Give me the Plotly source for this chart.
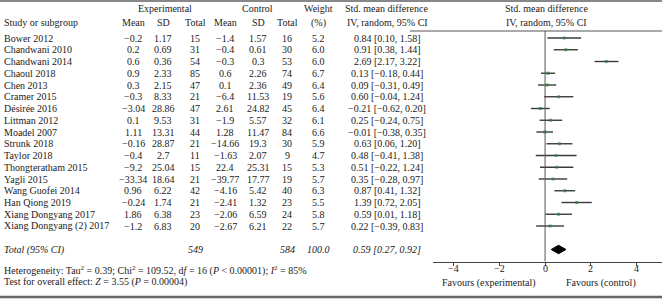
import plotly.graph_objects as go

studies = ["Bower 2012", "Chandwani 2010", "Chandwani 2014", "Chaoul 2018", "Chen 2013",
           "Cramer 2015", "Désirée 2016", "Littman 2012", "Moadel 2007", "Strunk 2018",
           "Taylor 2018", "Thongteratham 2015", "Yagli 2015", "Wang Guofei 2014",
           "Han Qiong 2019", "Xiang Dongyang 2017", "Xiang Dongyang (2) 2017"]
exp_mean = [-0.2, 0.2, 0.6, 0.9, 0.3, -0.3, -3.04, 0.1, 1.11, -0.16, -0.4, -9.2, -33.34, 0.96, -0.24, 1.86, -1.2]
exp_sd = [1.17, 0.69, 0.36, 2.33, 2.15, 8.33, 28.86, 9.53, 13.31, 28.87, 2.7, 25.04, 18.64, 6.22, 1.74, 6.38, 6.83]
exp_n = [15, 31, 54, 85, 47, 21, 47, 31, 44, 21, 11, 15, 21, 42, 21, 23, 20]
ctl_mean = [-1.4, -0.4, -0.3, 0.6, 0.1, -6.4, 2.61, -1.9, 1.28, -14.66, -1.63, 22.4, -39.77, -4.16, -2.41, -2.06, -2.67]
ctl_sd = [1.57, 0.61, 0.3, 2.26, 2.36, 11.53, 24.82, 5.57, 11.47, 19.3, 2.07, 25.31, 17.77, 5.42, 1.32, 6.59, 6.21]
ctl_n = [16, 30, 53, 74, 49, 19, 45, 32, 84, 30, 9, 15, 19, 40, 23, 24, 22]
weight = [5.2, 6.0, 6.0, 6.7, 6.4, 5.6, 6.4, 6.1, 6.6, 5.9, 4.7, 5.3, 5.7, 6.3, 5.5, 5.8, 5.7]
smd = [0.84, 0.91, 2.69, 0.13, 0.09, 0.60, -0.21, 0.25, -0.01, 0.63, 0.48, 0.51, 0.35, 0.87, 1.39, 0.59, 0.22]
ci_lo = [0.10, 0.38, 2.17, -0.18, -0.31, -0.04, -0.62, -0.24, -0.38, 0.06, -0.41, -0.22, -0.28, 0.41, 0.72, 0.01, -0.39]
ci_hi = [1.58, 1.44, 3.22, 0.44, 0.49, 1.24, 0.20, 0.75, 0.35, 1.20, 1.38, 1.24, 0.97, 1.32, 2.05, 1.18, 0.83]
total_exp, total_ctl, total_w = 549, 584, 100.0
pooled, pooled_lo, pooled_hi = 0.59, 0.27, 0.92
tick_vals = [-4, -2, 0, 2, 4]
tick_text = ["−4", "−2", "0", "2", "4"]

W, H = 662, 299
ROW0, ROWH = 38, 11.75
FONT = "Liberation Serif"
FS = 10
TXT = "#222"

def fmt(v):
    return str(v).replace("-", "−")

def f2(v):
    return f"{v:.2f}".replace("-", "−")

def px(p):
    return p / W

def py(p):
    return 1 - p / H

rows = list(range(len(studies)))
total_row = len(studies) + 1

fig = go.Figure()

# CI lines
xs, ys = [], []
for i in rows:
    xs += [ci_lo[i], ci_hi[i], None]
    ys += [i, i, None]
fig.add_trace(go.Scatter(x=xs, y=ys, mode="lines", line=dict(color="#3a3a3a", width=1.4),
                         hoverinfo="skip", showlegend=False))
# point estimates
fig.add_trace(go.Scatter(x=smd, y=rows, mode="markers",
                         marker=dict(symbol="square", size=[1.8 + w * 0.2 for w in weight], color="#2e7d3a",
                                     line=dict(width=0)),
                         showlegend=False))
# diamond
h = 0.36
fig.add_trace(go.Scatter(x=[pooled_lo, pooled, pooled_hi, pooled, pooled_lo],
                         y=[total_row, total_row - h, total_row, total_row + h, total_row],
                         mode="lines", fill="toself", fillcolor="#000", line=dict(color="#000", width=1),
                         showlegend=False, hoverinfo="skip"))

ann = []
def add(x, y, text, anchor="center", yref="y", italic=False, size=FS, xref="paper"):
    if italic:
        text = f"<i>{text}</i>"
    ann.append(dict(x=x, y=y, xref=xref, yref=yref, text=text, showarrow=False,
                    xanchor=anchor, yanchor="middle", font=dict(family=FONT, size=size, color=TXT)))

col_x = dict(em=133, esd=163, en=195, cm=225, csd=258, cn=287, w=318, smd=387)

# headers
add(px(165), py(9), "Experimental", yref="paper")
add(px(257), py(9), "Control", yref="paper")
add(px(318), py(9), "Weight", yref="paper")
add(px(386), py(9), "Std. mean difference", yref="paper")
add(px(546), py(9), "Std. mean difference", yref="paper")
add(px(2), py(23), "Study or subgroup", anchor="left", yref="paper")
for k, t in [("em", "Mean"), ("esd", "SD"), ("en", "Total"), ("cm", "Mean"), ("csd", "SD"), ("cn", "Total"), ("w", "(%)"), ("smd", "IV, random, 95% CI")]:
    add(px(col_x[k]), py(23), t, yref="paper")
add(px(546), py(23), "IV, random, 95% CI", yref="paper")

for i in rows:
    add(px(2), i, studies[i], anchor="left")
    add(px(col_x["em"]), i, fmt(exp_mean[i]))
    add(px(col_x["esd"]), i, fmt(exp_sd[i]))
    add(px(col_x["en"]), i, str(exp_n[i]))
    add(px(col_x["cm"]), i, fmt(ctl_mean[i]))
    add(px(col_x["csd"]), i, fmt(ctl_sd[i]))
    add(px(col_x["cn"]), i, str(ctl_n[i]))
    add(px(col_x["w"]), i, f"{weight[i]:.1f}")
    add(px(col_x["smd"]), i, f"{f2(smd[i])} [{f2(ci_lo[i])}, {f2(ci_hi[i])}]")

add(px(2), total_row, "Total (95% CI)", anchor="left", italic=True)
add(px(col_x["en"]), total_row, str(total_exp), italic=True)
add(px(col_x["cn"]), total_row, str(total_ctl), italic=True)
add(px(col_x["w"]), total_row, f"{total_w:.1f}", italic=True)
add(px(col_x["smd"]), total_row, f"{f2(pooled)} [{f2(pooled_lo)}, {f2(pooled_hi)}]", italic=True)

add(px(2), py(270), "Heterogeneity: Tau<sup>2</sup> = 0.39; Chi<sup>2</sup> = 109.52, d<i>f</i> = 16 (<i>P</i> &lt; 0.00001); <i>I</i><sup>2</sup> = 85%",
    anchor="left", yref="paper")
add(px(2), py(282), "Test for overall effect: <i>Z</i> = 3.55 (<i>P</i> = 0.00004)", anchor="left", yref="paper")
add(px(489), py(282.5), "Favours (experimental)", yref="paper")
add(px(601), py(282.5), "Favours (control)", yref="paper")

# axis tick labels
for v, t in zip(tick_vals, tick_text):
    add(v, py(268), t, xref="x", yref="paper")

shapes = [
    dict(type="line", xref="paper", yref="paper", x0=0, x1=1, y0=py(1), y1=py(1), line=dict(color="#888", width=2)),
    dict(type="line", xref="paper", yref="paper", x0=0, x1=1, y0=py(297), y1=py(297), line=dict(color="#666", width=2.5)),
    dict(type="line", xref="paper", yref="paper", x0=px(410), x1=1, y0=py(31), y1=py(31), line=dict(color="#555", width=1)),
    dict(type="line", xref="x", yref="paper", x0=0, x1=0, y0=py(31), y1=py(261.5), line=dict(color="#555", width=1)),
]

fig.update_layout(
    width=W, height=H, margin=dict(l=0, r=0, t=0, b=0),
    paper_bgcolor="white", plot_bgcolor="rgba(0,0,0,0)",
    annotations=ann, shapes=shapes, showlegend=False, hovermode=False,
    xaxis=dict(domain=[px(432.7), 1], range=[-4.93, 5.13], anchor="free", position=py(261.5),
               showgrid=False, zeroline=False, showline=True, linecolor="#444", linewidth=1,
               ticks="outside", ticklen=3, tickcolor="#444", tickvals=tick_vals,
               showticklabels=False),
    yaxis=dict(domain=[0, 1], range=[(H - ROW0) / ROWH, -ROW0 / ROWH], showgrid=False, zeroline=False,
               showticklabels=False, showline=False),
)

fig.write_html("out.html", config={"displayModeBar": False},
               post_script="document.body.style.margin='0';document.body.style.overflow='hidden';")
